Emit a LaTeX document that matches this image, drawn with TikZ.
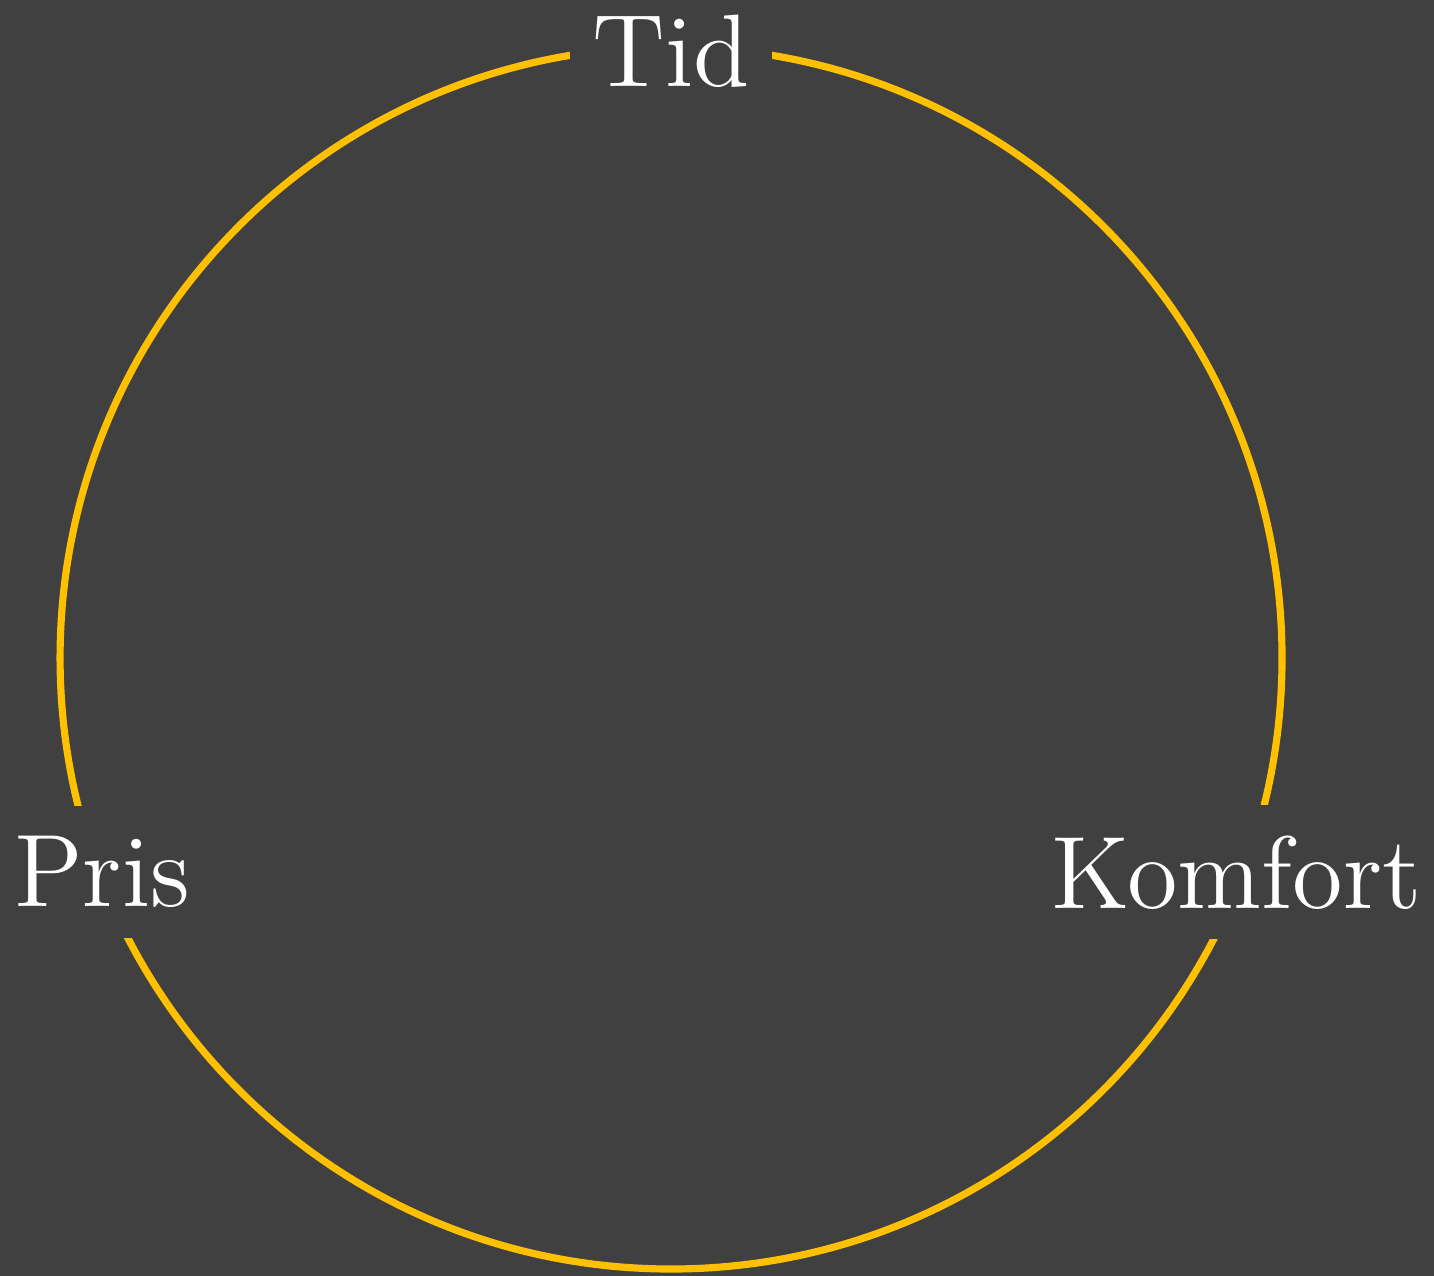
\documentclass[tikz,border=0pt]{standalone}
\usepackage{tikz}
\usetikzlibrary{positioning}
\definecolor{slideBack}{HTML}{404040}
\definecolor{ringGold}{HTML}{FFC000}
\definecolor{labelInk}{HTML}{FFFFFF}

\begin{document}
\begin{tikzpicture}[
    ring/.style={
        draw=ringGold,
        line width=1pt
    },
    corner/.style={
        fill=slideBack,
        text=labelInk,
        font=\Large,
        inner xsep=3.2pt,
        inner ysep=4.2pt
    }
]

% Background and frame
\useasboundingbox (-3.295,-3.034) rectangle (3.746,3.231);
\fill[slideBack] (-3.295,-3.034) rectangle (3.746,3.231);

% Triangle of trade-offs on a ring
\draw[ring] (0,0) circle (3);

\node[corner] (tid) at (90:2.98) {Tid};
\node[corner] (pris) at (200.6:2.985) {Pris};
\node[corner] (komfort) at (-20.75:2.97) {Komfort};

\end{tikzpicture}
\end{document}
